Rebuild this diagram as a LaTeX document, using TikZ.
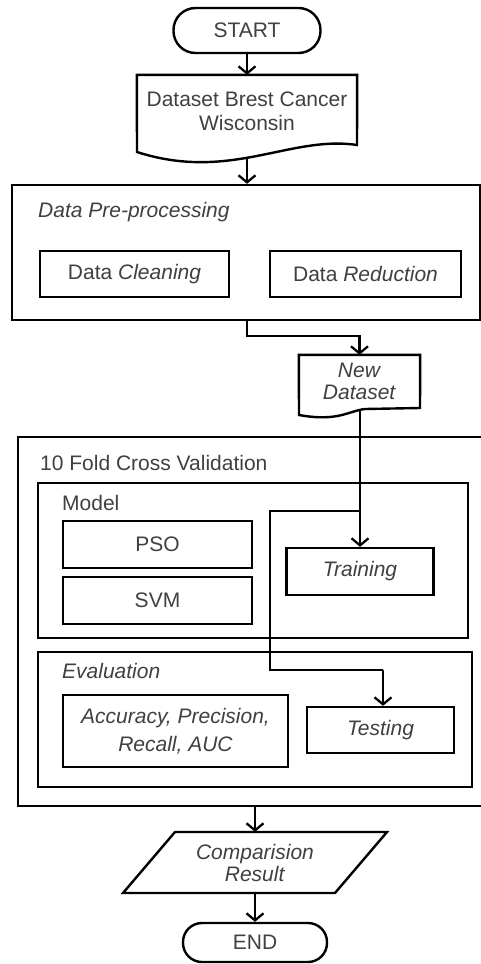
\documentclass[tikz,border=0pt]{standalone}
\usepackage{fontspec}
\setmainfont{Liberation Sans}
\usetikzlibrary{arrows.meta}
\begin{document}
\begin{tikzpicture}[x=1pt,y=-1pt,
  every node/.style={font=\fontsize{21}{22}\selectfont, text=black!75, inner sep=0pt, align=center},
  box/.style={draw=black, line width=2.4pt, rectangle},
  term/.style={draw=black, line width=2.4pt, rectangle, rounded corners=19pt},
  shp/.style={draw=black, line width=2.4pt, line join=miter},
  lbl/.style={anchor=west},
  ln/.style={draw=black, line width=2.3pt},
  arr/.style={draw=black, line width=2.3pt, -{Straight Barb[length=7pt,width=17pt]}}]
\useasboundingbox (0,0) rectangle (481,964);
\fill[white] (0,0) rectangle (481,964);
\clip (0,0) rectangle (481,964);

% START
\node[term, minimum width=147pt, minimum height=45pt, rounded corners=22pt] (start) at (247,30.5) {START};

% Dataset document
\node[minimum width=220pt, minimum height=72pt, font=\fontsize{21}{24}\selectfont] (ds) at (247,111) {Dataset Brest Cancer\\Wisconsin};
\draw[shp] (ds.north west) -- (ds.north east) -- (357,145)
  .. controls (290,135) and (230,182) .. (137,152) -- cycle;
\coordinate (dsb) at (247,158);

% Data Pre-processing
\node[box, minimum width=468pt, minimum height=135pt] (pre) at (246,252.5) {};
\node[lbl] (pret) at (38,212) {\textit{Data Pre-processing}};
\node[box, minimum width=189pt, minimum height=46pt] (clean) at (134.5,274) {Data \textit{Cleaning}};
\node[box, minimum width=191pt, minimum height=46pt] (red) at (365.5,274) {Data \textit{Reduction}};

% New Dataset document
\node[minimum width=121pt, minimum height=53pt] (nd) at (359.5,381.5) {\textit{New}\\\textit{Dataset}};
\draw[shp] (nd.north west) -- (nd.north east) -- (420,408) -- (365,409)
  .. controls (348,411) and (338,422) .. (299,415) -- cycle;
\coordinate (ndb) at (360,409);

% 10 Fold Cross Validation
\node[box, minimum width=474pt, minimum height=369pt] (fold) at (255,621.5) {};
\node[lbl] (foldt) at (40,463) {10 Fold Cross Validation};

% Model
\node[box, minimum width=430pt, minimum height=155pt] (model) at (253,560.5) {};
\node[lbl] (modelt) at (62,503) {Model};
\node[box, minimum width=189pt, minimum height=47pt] (pso) at (157.5,544.5) {PSO};
\node[box, minimum width=189pt, minimum height=47pt] (svm) at (157.5,600.5) {SVM};
\node[box, minimum width=147pt, minimum height=47pt] (train) at (360,571.5) {\textit{Training}};

% Evaluation
\node[box, minimum width=434pt, minimum height=135pt] (eval) at (255,719.5) {};
\node[lbl] (evalt) at (62,671) {\textit{Evaluation}};
\node[box, minimum width=225pt, minimum height=72pt, font=\fontsize{21}{28}\selectfont] (acc) at (175.5,731) {\textit{Accuracy, Precision,}\\\textit{Recall, AUC}};
\node[box, minimum width=147pt, minimum height=46pt] (test) at (380.5,730) {\textit{Testing}};

% Comparision Result
\node[minimum width=160pt, minimum height=61pt] (cmp) at (255,862.5) {\textit{Comparision}\\\textit{Result}};
\draw[shp] (175,832) -- (387,832) -- (335,893) -- (123,893) -- cycle;

% END
\node[term, minimum width=144pt, minimum height=39pt] (end) at (255,942.5) {END};

% connectors
\draw[arr] (start.south) -- (ds.north);
\draw[arr] (dsb) -- (dsb |- pre.north);
\coordinate (c1) at (247,336);
\draw[arr] (pre.south -| c1) -- (c1) -| (nd.north);
\draw[arr] (ndb) -- (ndb |- train.north);
\coordinate (b1) at (270,511);
\coordinate (b2) at (270,670);
\coordinate (b3) at (383,670);
\draw[ln] (ndb |- b1) -- (b1) -- (b2) -- (b3);
\draw[arr] (b3) -- (b3 |- test.north);
\draw[arr] (fold.south) -- (fold.south |- cmp.north);
\draw[arr] (cmp.south) -- (end.north);
\end{tikzpicture}
\end{document}
